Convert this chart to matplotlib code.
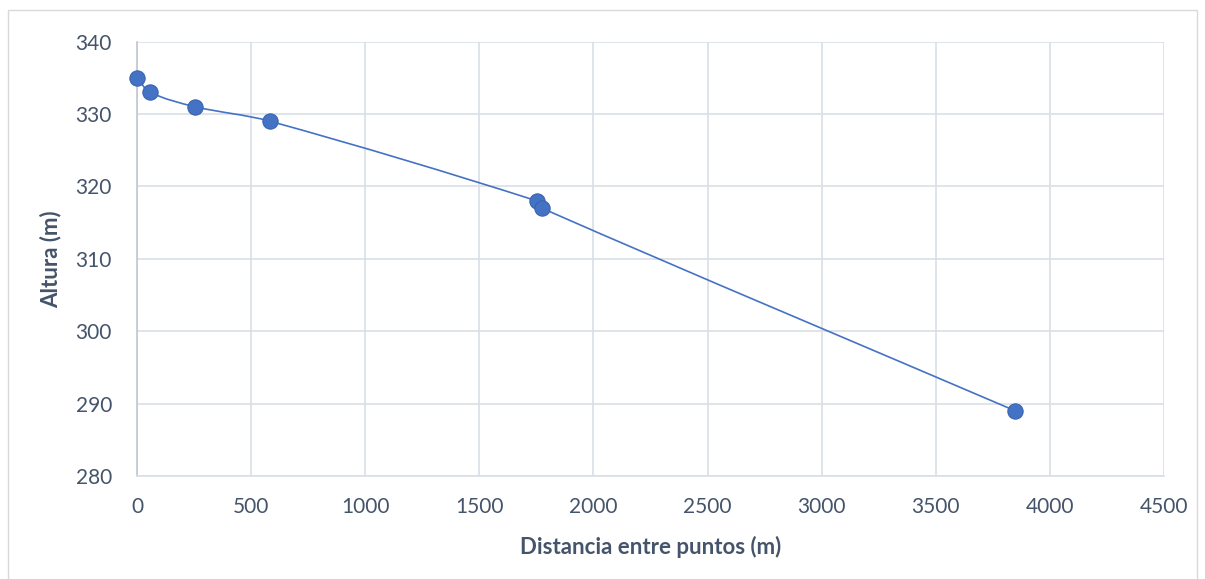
import numpy as np
import matplotlib.pyplot as plt
from matplotlib.path import Path
from matplotlib.patches import PathPatch, Rectangle

plt.rcParams['font.family'] = ['Lato', 'DejaVu Sans']

# Perfil del terreno: distancia acumulada y altura
distancia = [0, 57, 254, 582, 1751, 1773, 3848]
altura = [335, 333, 331, 329, 318, 317, 289]

x_ticks = [0, 500, 1000, 1500, 2000, 2500, 3000, 3500, 4000, 4500]
y_ticks = [280, 290, 300, 310, 320, 330, 340]

text_col = '#44546A'
grid_col = '#D9DEE6'
line_col = '#4472C4'

fig = plt.figure(figsize=(12.05, 5.79), dpi=100)
ax = fig.add_axes([0.1137, 0.1779, 0.966 - 0.1137, 0.9283 - 0.1779])

# marco del grafico
fig.patches.append(Rectangle((8 / 1205, -0.01), (1197 - 8) / 1205, (579 - 10) / 579 + 0.01,
                             transform=fig.transFigure, fill=False,
                             edgecolor='#D9D9D9', linewidth=1.0))

ax.set_xlim(0, 4500)
ax.set_ylim(280, 340)

# linea suavizada: bezier con tangentes limitadas por la longitud del tramo,
# calculada en coordenadas de pantalla para que no haga bucles
pts = ax.transData.transform(np.column_stack([distancia, altura]).astype(float))
n = len(pts)
verts = [pts[0]]
codes = [Path.MOVETO]
for i in range(n - 1):
    p0, p1 = pts[i], pts[i + 1]
    seg = np.linalg.norm(p1 - p0)
    t0 = pts[min(i + 1, n - 1)] - pts[max(i - 1, 0)]
    t1 = pts[min(i + 2, n - 1)] - pts[i]
    t0 = t0 / np.linalg.norm(t0)
    t1 = t1 / np.linalg.norm(t1)
    c1 = p0 + t0 * seg / 3.0
    c2 = p1 - t1 * seg / 3.0
    verts += [c1, c2, p1]
    codes += [Path.CURVE4] * 3
verts = ax.transData.inverted().transform(np.array(verts))
ax.add_patch(PathPatch(Path(verts, codes), facecolor='none',
                       edgecolor=line_col, linewidth=1.2, zorder=3))

ax.plot(distancia, altura, 'o', color=line_col, markersize=11,
        markeredgecolor='#3A64B0', markeredgewidth=0.8, zorder=4, clip_on=False)

ax.set_xticks(x_ticks)
ax.set_yticks(y_ticks)
ax.grid(True, color=grid_col, linewidth=1.2)
ax.set_axisbelow(True)
for s in ['top', 'right']:
    ax.spines[s].set_visible(False)
ax.spines['left'].set_color('#BFC7D3')
ax.spines['bottom'].set_color('#D9DEE6')
ax.spines['left'].set_linewidth(1.2)
ax.spines['bottom'].set_linewidth(1.2)
ax.tick_params(length=0, labelsize=15, labelcolor=text_col)
ax.tick_params(axis='x', pad=15)
ax.tick_params(axis='y', pad=18)

ax.set_xlabel('Distancia entre puntos (m)', fontsize=16, fontweight='bold',
              color=text_col, labelpad=14)
ax.set_ylabel('Altura (m)', fontsize=16, fontweight='bold',
              color=text_col, labelpad=10)

fig.savefig('out.png', dpi=100)
